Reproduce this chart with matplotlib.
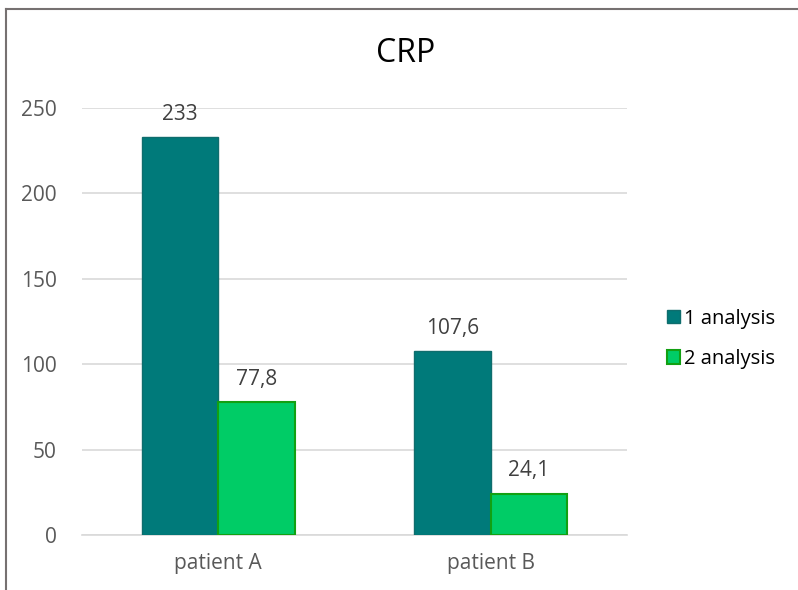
import matplotlib
matplotlib.use("Agg")
import matplotlib.pyplot as plt
from matplotlib.lines import Line2D
from matplotlib.patches import Patch
import numpy as np

categories = ["patient A", "patient B"]
series_names = ["1 analysis", "2 analysis"]
analysis1 = [233, 107.6]
analysis2 = [77.8, 24.1]
labels1 = ["233", "107,6"]
labels2 = ["77,8", "24,1"]
yticks = [0, 50, 100, 150, 200, 250]

plt.rcParams['font.family'] = ['Open Sans', 'DejaVu Sans']

W, H = 798, 590
fig = plt.figure(figsize=(W / 100, H / 100), dpi=100)
ax = fig.add_axes([82 / W, 1 - 535 / H, (627 - 82) / W, (535 - 108) / H])

x = np.arange(len(categories))
bw = 0.28
c1, e1 = "#007A7A", "#0F6D6D"
c2, e2 = "#00CC66", "#12A012"
b1 = ax.bar(x - bw / 2, analysis1, bw, color=c1, edgecolor=e1, linewidth=1.0, zorder=3)
b2 = ax.bar(x + bw / 2, analysis2, bw, color=c2, edgecolor=e2, linewidth=1.5, zorder=3)

FS = 15
for bars, labs in ((b1, labels1), (b2, labels2)):
    for rect, lab in zip(bars, labs):
        ax.annotate(lab, (rect.get_x() + rect.get_width() / 2, rect.get_height()),
                    xytext=(0, 9), textcoords="offset points", ha="center", va="bottom",
                    fontsize=FS, color="#404040")

ax.set_xlim(-0.5, 1.5)
ax.set_ylim(0, 250)
ax.set_yticks(yticks)
ax.set_yticklabels([str(v) for v in yticks], fontsize=FS, color="#595959")
ax.set_xticks(x)
ax.set_xticklabels(categories, fontsize=FS, color="#595959")
ax.tick_params(axis="x", length=0, pad=13)
ax.tick_params(axis="y", length=0, pad=18)
ax.yaxis.grid(True, color="#D9D9D9", linewidth=1.2, zorder=0)
for s in ["top", "right", "left"]:
    ax.spines[s].set_visible(False)
ax.spines["bottom"].set_color("#D9D9D9")
ax.spines["bottom"].set_linewidth(1.2)

fig.text(406 / W, 1 - 54 / H, "CRP", ha="center", va="center", fontsize=23, color="#000000")

handles = [Patch(facecolor=c1, edgecolor=e1, label=series_names[0]),
           Patch(facecolor=c2, edgecolor=e2, linewidth=1.5, label=series_names[1])]
fig.legend(handles=handles, loc="center left", bbox_to_anchor=(649 / W, 1 - 339 / H),
           frameon=False, fontsize=14.5, handlelength=0.62, handleheight=0.62,
           handletextpad=0.22, labelspacing=1.0)

# outer chart border (left and top edges visible)
fig.add_artist(Line2D([5.5 / W, 5.5 / W], [0, 1 - 8.5 / H], transform=fig.transFigure,
                      color="#767171", linewidth=1.5))
fig.add_artist(Line2D([5.5 / W, 1], [1 - 8.5 / H, 1 - 8.5 / H], transform=fig.transFigure,
                      color="#767171", linewidth=1.5))

fig.savefig("out.png", dpi=100)
